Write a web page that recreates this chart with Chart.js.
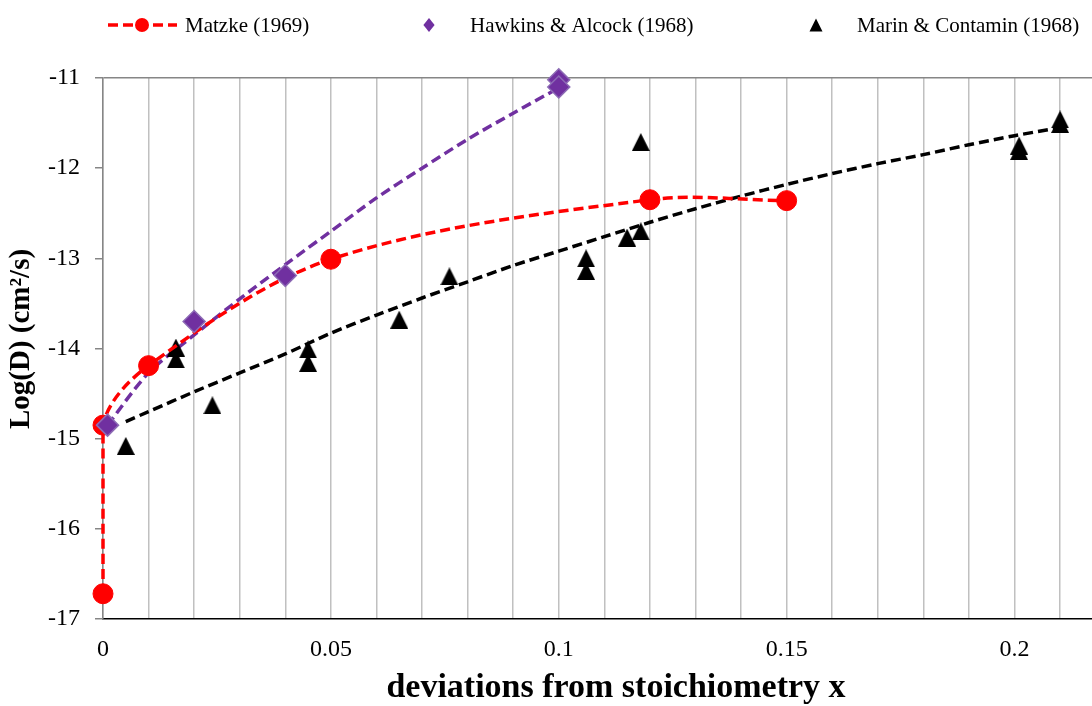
<!DOCTYPE html>
<html><head><meta charset="utf-8">
<script src="https://cdn.jsdelivr.net/npm/chart.js@4.4.0/dist/chart.umd.min.js"></script>
<style>html,body{margin:0;padding:0;background:#fff;overflow:hidden}#wrap{width:1092px;height:706px;position:relative}</style>
</head><body><div id="wrap"><canvas id="c" width="1092" height="706"></canvas></div>
<script>
// ---- data ----
const seriesNames = ['Matzke (1969)', 'Hawkins & Alcock (1968)', 'Marin & Contamin (1968)'];
const matzkeX = [0, 0, 0.01, 0.05, 0.12, 0.15];
const matzkeY = [-16.72, -14.85, -14.19, -13.01, -12.35, -12.36];
const hawkinsX = [0.001, 0.02, 0.04, 0.1, 0.1];
const hawkinsY = [-14.85, -13.70, -13.19, -11.02, -11.10];
const marinX = [0.005, 0.016, 0.016, 0.024, 0.045, 0.045, 0.065, 0.076, 0.106, 0.106, 0.115, 0.118, 0.118, 0.201, 0.201, 0.21, 0.21];
const marinY = [-15.08, -13.99, -14.12, -14.63, -14.01, -14.16, -13.68, -13.20, -13.00, -13.14, -12.77, -12.70, -11.71, -11.75, -11.81, -11.46, -11.51];
const hawkinsTrendX = [0.001, 0.01, 0.02, 0.03, 0.04, 0.05, 0.06, 0.07, 0.08, 0.09, 0.1];
const hawkinsTrendY = [-14.85, -14.27, -13.85, -13.45, -13.07, -12.70, -12.33, -12.00, -11.68, -11.39, -11.11];
const marinTrendX = [0.005, 0.01, 0.02, 0.03, 0.04, 0.05, 0.06, 0.07, 0.08, 0.09, 0.1, 0.11, 0.12, 0.13, 0.14, 0.15, 0.16, 0.17, 0.18, 0.19, 0.2, 0.21];
const marinTrendY = [-14.81, -14.70, -14.48, -14.27, -14.06, -13.83, -13.63, -13.44, -13.26, -13.08, -12.92, -12.76, -12.60, -12.45, -12.31, -12.18, -12.06, -11.95, -11.85, -11.74, -11.64, -11.55];
const xMin = 0, xMax = 0.217, xStep = 0.01, xLabelStep = 0.05;
const yMin = -17, yMax = -11, yStep = 1;
const xTitle = 'deviations from stoichiometry x';
const yTitle = 'Log(D) (cm\u00B2/s)';

const pts = (xs, ys) => xs.map((x, i) => ({x, y: ys[i]}));
const FONT = '"Liberation Serif", "Times New Roman", serif';

// isosceles triangle marker (Excel style)
function triangleCanvas(w, h, color) {
  const c = document.createElement('canvas');
  c.width = w; c.height = h;
  const g = c.getContext('2d');
  g.fillStyle = color;
  g.beginPath(); g.moveTo(w / 2, 0); g.lineTo(w, h); g.lineTo(0, h); g.closePath(); g.fill();
  return c;
}
const triMarker = triangleCanvas(18, 18, '#000000');

function drawShape(ctx, style, x, y, r) {
  ctx.beginPath();
  if (style === 'circle') {
    ctx.arc(x, y, r, 0, Math.PI * 2);
  } else if (style === 'rectRot') {
    ctx.moveTo(x, y - r); ctx.lineTo(x + r * 0.8, y); ctx.lineTo(x, y + r); ctx.lineTo(x - r * 0.8, y);
  } else if (style === 'triangle') {
    ctx.moveTo(x, y - r); ctx.lineTo(x + r, y + r); ctx.lineTo(x - r, y + r);
  }
  ctx.closePath();
  ctx.fill();
}

const customLegend = {
  id: 'customLegend',
  afterDraw(chart, args, opts) {
    const ctx = chart.ctx;
    ctx.save();
    ctx.font = opts.font;
    ctx.textBaseline = 'middle';
    ctx.textAlign = 'left';
    opts.items.forEach(it => {
      const ds = chart.data.datasets[it.ds];
      const y = opts.y;
      if (it.line) {
        ctx.strokeStyle = ds.borderColor;
        ctx.lineWidth = ds.borderWidth;
        ctx.setLineDash(ds.borderDash || []);
        ctx.beginPath(); ctx.moveTo(it.lineFrom, y); ctx.lineTo(it.lineTo, y); ctx.stroke();
        ctx.setLineDash([]);
      }
      ctx.fillStyle = ds.pointBackgroundColor;
      drawShape(ctx, it.shape, it.markerX, y, it.r);
      ctx.fillStyle = '#000';
      ctx.fillText(ds.label, it.textX, y + 1);
    });
    ctx.restore();
  }
};

const axisTitles = {
  id: 'axisTitles',
  afterDraw(chart, args, opts) {
    const ctx = chart.ctx;
    ctx.save();
    ctx.fillStyle = '#000';
    ctx.textAlign = 'center';
    ctx.textBaseline = 'middle';
    ctx.font = opts.xFont;
    ctx.fillText(opts.xText, opts.xPos[0], opts.xPos[1]);
    ctx.translate(opts.yPos[0], opts.yPos[1]);
    ctx.rotate(-Math.PI / 2);
    ctx.font = opts.yFont;
    ctx.fillText(opts.yText, 0, 0);
    ctx.restore();
  }
};

const chart = new Chart(document.getElementById('c'), {
  type: 'scatter',
  data: {
    datasets: [
      { label: seriesNames[1], data: pts(hawkinsX, hawkinsY), showLine: false, pointStyle: 'rectRot',
        pointRadius: 11, pointBackgroundColor: '#7030A0', pointBorderColor: '#8d6bb5', pointBorderWidth: 1.5, clip: false },
      { label: seriesNames[0], data: pts(matzkeX, matzkeY), showLine: true, tension: 0.33,
        borderColor: '#FF0000', borderWidth: 3.5, borderDash: [10, 5],
        pointStyle: 'circle', pointRadius: 10, pointBackgroundColor: '#FF0000', pointBorderColor: '#FF0000', pointBorderWidth: 1, clip: false },
      { label: seriesNames[2], data: pts(marinX, marinY), showLine: false, pointStyle: triMarker,
        pointRadius: 9, pointBackgroundColor: '#000000', pointBorderColor: '#000000', clip: false },
      { label: 'trend-hawkins', data: pts(hawkinsTrendX, hawkinsTrendY), showLine: true, tension: 0.3,
        borderColor: '#7030A0', borderWidth: 3.5, borderDash: [10, 5], pointRadius: 0, clip: false },
      { label: 'trend-marin', data: pts(marinTrendX, marinTrendY), showLine: true, tension: 0.3,
        borderColor: '#000000', borderWidth: 3.5, borderDash: [10, 5], pointRadius: 0, clip: false }
    ]
  },
  options: {
    responsive: false,
    animation: false,
    events: [],
    layout: { autoPadding: false, padding: { top: 78, right: 0, left: 0, bottom: 0 } },
    plugins: {
      legend: { display: false },
      tooltip: { enabled: false },
      customLegend: {
        font: '21px ' + FONT,
        y: 25,
        items: [
          { ds: 1, line: true, lineFrom: 108, lineTo: 177, shape: 'circle', markerX: 142, r: 7, textX: 185 },
          { ds: 0, shape: 'rectRot', markerX: 429, r: 7, textX: 470 },
          { ds: 2, shape: 'triangle', markerX: 816, r: 6.5, textX: 857 }
        ]
      },
      axisTitles: {
        xText: xTitle, xFont: 'bold 34px ' + FONT, xPos: [616, 688],
        yText: yTitle, yFont: 'bold 29px ' + FONT, yPos: [22, 339]
      }
    },
    scales: {
      x: {
        type: 'linear', position: 'bottom', min: xMin, max: xMax,
        afterFit: s => { s.height = 87; s.paddingLeft = 0; s.paddingRight = 0; },
        grid: { color: '#c0c0c0', lineWidth: 1.5, drawTicks: false },
        border: { color: '#000000', width: 1.5 },
        ticks: {
          stepSize: xStep, includeBounds: false, autoSkip: false, maxRotation: 0, minRotation: 0,
          padding: 16, color: '#000', font: { family: FONT, size: 24 },
          callback: v => {
            const k = v / xLabelStep;
            return Math.abs(k - Math.round(k)) < 1e-6 ? String(+(v.toFixed(3))) : '';
          }
        },
        title: { display: false }
      },
      y: {
        type: 'linear', position: 'left', min: yMin, max: yMax,
        afterFit: s => { s.width = 103; s.paddingTop = 0; s.paddingBottom = 0; },
        grid: {
          color: c => (c.tick && c.tick.value === yMax) ? '#868686' : 'rgba(0,0,0,0)',
          tickColor: '#868686', tickLength: 8, lineWidth: 1.5
        },
        border: { color: '#868686', width: 1.5 },
        ticks: { stepSize: yStep, padding: 15, color: '#000', font: { family: FONT, size: 24 } },
        title: { display: false }
      }
    }
  },
  plugins: [customLegend, axisTitles]
});
</script></body></html>
